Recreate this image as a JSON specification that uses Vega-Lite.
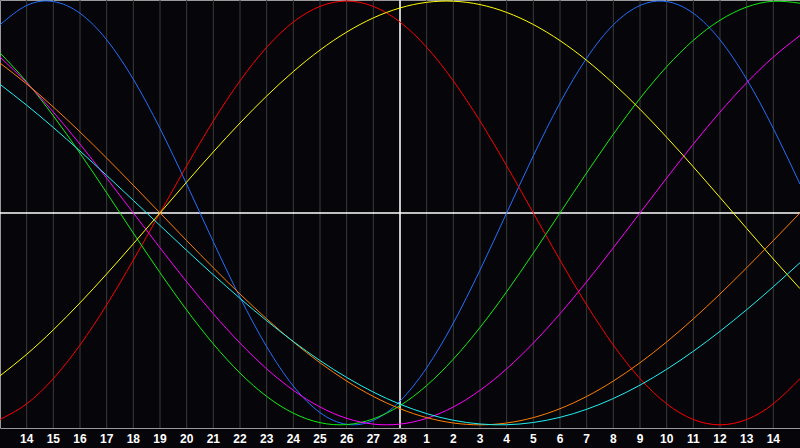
{
"$schema": "https://vega.github.io/schema/vega-lite/v6.json",
"width": 800, "height": 428,
"autosize": {"type": "none"},
"padding": {"left": 0, "top": 0, "right": 0, "bottom": 20},
"background": "#060509",
"config": {"view": {"stroke": "#9a9a9a", "strokeWidth": 1, "fill": "#060509"}},
"datasets": {
"days": [{"t":-14,"lab":"14"},{"t":-13,"lab":"15"},{"t":-12,"lab":"16"},{"t":-11,"lab":"17"},{"t":-10,"lab":"18"},{"t":-9,"lab":"19"},{"t":-8,"lab":"20"},{"t":-7,"lab":"21"},{"t":-6,"lab":"22"},{"t":-5,"lab":"23"},{"t":-4,"lab":"24"},{"t":-3,"lab":"25"},{"t":-2,"lab":"26"},{"t":-1,"lab":"27"},{"t":0,"lab":"28"},{"t":1,"lab":"1"},{"t":2,"lab":"2"},{"t":3,"lab":"3"},{"t":4,"lab":"4"},{"t":5,"lab":"5"},{"t":6,"lab":"6"},{"t":7,"lab":"7"},{"t":8,"lab":"8"},{"t":9,"lab":"9"},{"t":10,"lab":"10"},{"t":11,"lab":"11"},{"t":12,"lab":"12"},{"t":13,"lab":"13"},{"t":14,"lab":"14"}],
"curves": [
{"c":"P","t":-15,"v":0.8879},{"c":"P","t":-14,"v":0.9791},{"c":"P","t":-13,"v":0.9977},{"c":"P","t":-12,"v":0.9423},{"c":"P","t":-11,"v":0.8170},{"c":"P","t":-10,"v":0.6310},{"c":"P","t":-9,"v":0.3984},{"c":"P","t":-8,"v":0.1362},{"c":"P","t":-7,"v":-0.1362},{"c":"P","t":-6,"v":-0.3984},{"c":"P","t":-5,"v":-0.6310},{"c":"P","t":-4,"v":-0.8170},{"c":"P","t":-3,"v":-0.9423},{"c":"P","t":-2,"v":-0.9977},{"c":"P","t":-1,"v":-0.9791},{"c":"P","t":0,"v":-0.8879},{"c":"P","t":1,"v":-0.7308},{"c":"P","t":2,"v":-0.5196},{"c":"P","t":3,"v":-0.2698},{"c":"P","t":4,"v":0},{"c":"P","t":5,"v":0.2698},{"c":"P","t":6,"v":0.5196},{"c":"P","t":7,"v":0.7308},{"c":"P","t":8,"v":0.8879},{"c":"P","t":9,"v":0.9791},{"c":"P","t":10,"v":0.9977},{"c":"P","t":11,"v":0.9423},{"c":"P","t":12,"v":0.8170},{"c":"P","t":13,"v":0.6310},{"c":"P","t":14,"v":0.3984},{"c":"P","t":15,"v":0.1362},
{"c":"E","t":-15,"v":-0.9749},{"c":"E","t":-14,"v":-0.9010},{"c":"E","t":-13,"v":-0.7818},{"c":"E","t":-12,"v":-0.6235},{"c":"E","t":-11,"v":-0.4339},{"c":"E","t":-10,"v":-0.2225},{"c":"E","t":-9,"v":0},{"c":"E","t":-8,"v":0.2225},{"c":"E","t":-7,"v":0.4339},{"c":"E","t":-6,"v":0.6235},{"c":"E","t":-5,"v":0.7818},{"c":"E","t":-4,"v":0.9010},{"c":"E","t":-3,"v":0.9749},{"c":"E","t":-2,"v":1},{"c":"E","t":-1,"v":0.9749},{"c":"E","t":0,"v":0.9010},{"c":"E","t":1,"v":0.7818},{"c":"E","t":2,"v":0.6235},{"c":"E","t":3,"v":0.4339},{"c":"E","t":4,"v":0.2225},{"c":"E","t":5,"v":0},{"c":"E","t":6,"v":-0.2225},{"c":"E","t":7,"v":-0.4339},{"c":"E","t":8,"v":-0.6235},{"c":"E","t":9,"v":-0.7818},{"c":"E","t":10,"v":-0.9010},{"c":"E","t":11,"v":-0.9749},{"c":"E","t":12,"v":-1},{"c":"E","t":13,"v":-0.9749},{"c":"E","t":14,"v":-0.9010},{"c":"E","t":15,"v":-0.7818},
{"c":"I","t":-15,"v":0.7557},{"c":"I","t":-14,"v":0.6182},{"c":"I","t":-13,"v":0.4582},{"c":"I","t":-12,"v":0.2817},{"c":"I","t":-11,"v":0.0951},{"c":"I","t":-10,"v":-0.0951},{"c":"I","t":-9,"v":-0.2817},{"c":"I","t":-8,"v":-0.4582},{"c":"I","t":-7,"v":-0.6182},{"c":"I","t":-6,"v":-0.7557},{"c":"I","t":-5,"v":-0.8660},{"c":"I","t":-4,"v":-0.9450},{"c":"I","t":-3,"v":-0.9898},{"c":"I","t":-2,"v":-0.9989},{"c":"I","t":-1,"v":-0.9718},{"c":"I","t":0,"v":-0.9096},{"c":"I","t":1,"v":-0.8146},{"c":"I","t":2,"v":-0.6901},{"c":"I","t":3,"v":-0.5406},{"c":"I","t":4,"v":-0.3717},{"c":"I","t":5,"v":-0.1893},{"c":"I","t":6,"v":0},{"c":"I","t":7,"v":0.1893},{"c":"I","t":8,"v":0.3717},{"c":"I","t":9,"v":0.5406},{"c":"I","t":10,"v":0.6901},{"c":"I","t":11,"v":0.8146},{"c":"I","t":12,"v":0.9096},{"c":"I","t":13,"v":0.9718},{"c":"I","t":14,"v":0.9989},{"c":"I","t":15,"v":0.9898},
{"c":"N","t":-15,"v":0.7357},{"c":"N","t":-14,"v":0.6142},{"c":"N","t":-13,"v":0.4759},{"c":"N","t":-12,"v":0.3247},{"c":"N","t":-11,"v":0.1646},{"c":"N","t":-10,"v":0},{"c":"N","t":-9,"v":-0.1646},{"c":"N","t":-8,"v":-0.3247},{"c":"N","t":-7,"v":-0.4759},{"c":"N","t":-6,"v":-0.6142},{"c":"N","t":-5,"v":-0.7357},{"c":"N","t":-4,"v":-0.8372},{"c":"N","t":-3,"v":-0.9158},{"c":"N","t":-2,"v":-0.9694},{"c":"N","t":-1,"v":-0.9966},{"c":"N","t":0,"v":-0.9966},{"c":"N","t":1,"v":-0.9694},{"c":"N","t":2,"v":-0.9158},{"c":"N","t":3,"v":-0.8372},{"c":"N","t":4,"v":-0.7357},{"c":"N","t":5,"v":-0.6142},{"c":"N","t":6,"v":-0.4759},{"c":"N","t":7,"v":-0.3247},{"c":"N","t":8,"v":-0.1646},{"c":"N","t":9,"v":0},{"c":"N","t":10,"v":0.1646},{"c":"N","t":11,"v":0.3247},{"c":"N","t":12,"v":0.4759},{"c":"N","t":13,"v":0.6142},{"c":"N","t":14,"v":0.7357},{"c":"N","t":15,"v":0.8372},
{"c":"A","t":-15,"v":-0.7687},{"c":"A","t":-14,"v":-0.6673},{"c":"A","t":-13,"v":-0.5518},{"c":"A","t":-12,"v":-0.4245},{"c":"A","t":-11,"v":-0.2881},{"c":"A","t":-10,"v":-0.1456},{"c":"A","t":-9,"v":0},{"c":"A","t":-8,"v":0.1456},{"c":"A","t":-7,"v":0.2881},{"c":"A","t":-6,"v":0.4245},{"c":"A","t":-5,"v":0.5518},{"c":"A","t":-4,"v":0.6673},{"c":"A","t":-3,"v":0.7687},{"c":"A","t":-2,"v":0.8536},{"c":"A","t":-1,"v":0.9205},{"c":"A","t":0,"v":0.9675},{"c":"A","t":1,"v":0.9940},{"c":"A","t":2,"v":0.9993},{"c":"A","t":3,"v":0.9834},{"c":"A","t":4,"v":0.9464},{"c":"A","t":5,"v":0.8893},{"c":"A","t":6,"v":0.8133},{"c":"A","t":7,"v":0.7200},{"c":"A","t":8,"v":0.6112},{"c":"A","t":9,"v":0.4894},{"c":"A","t":10,"v":0.3572},{"c":"A","t":11,"v":0.2174},{"c":"A","t":12,"v":0.0730},{"c":"A","t":13,"v":-0.0730},{"c":"A","t":14,"v":-0.2174},{"c":"A","t":15,"v":-0.3572},
{"c":"W","t":-15,"v":0.7071},{"c":"W","t":-14,"v":0.6088},{"c":"W","t":-13,"v":0.5},{"c":"W","t":-12,"v":0.3827},{"c":"W","t":-11,"v":0.2588},{"c":"W","t":-10,"v":0.1305},{"c":"W","t":-9,"v":0},{"c":"W","t":-8,"v":-0.1305},{"c":"W","t":-7,"v":-0.2588},{"c":"W","t":-6,"v":-0.3827},{"c":"W","t":-5,"v":-0.5},{"c":"W","t":-4,"v":-0.6088},{"c":"W","t":-3,"v":-0.7071},{"c":"W","t":-2,"v":-0.7934},{"c":"W","t":-1,"v":-0.8660},{"c":"W","t":0,"v":-0.9239},{"c":"W","t":1,"v":-0.9659},{"c":"W","t":2,"v":-0.9914},{"c":"W","t":3,"v":-1},{"c":"W","t":4,"v":-0.9914},{"c":"W","t":5,"v":-0.9659},{"c":"W","t":6,"v":-0.9239},{"c":"W","t":7,"v":-0.8660},{"c":"W","t":8,"v":-0.7934},{"c":"W","t":9,"v":-0.7071},{"c":"W","t":10,"v":-0.6088},{"c":"W","t":11,"v":-0.5},{"c":"W","t":12,"v":-0.3827},{"c":"W","t":13,"v":-0.2588},{"c":"W","t":14,"v":-0.1305},{"c":"W","t":15,"v":0},
{"c":"S","t":-15,"v":0.6068},{"c":"S","t":-14,"v":0.5085},{"c":"S","t":-13,"v":0.4031},{"c":"S","t":-12,"v":0.2921},{"c":"S","t":-11,"v":0.1769},{"c":"S","t":-10,"v":0.0592},{"c":"S","t":-9,"v":-0.0592},{"c":"S","t":-8,"v":-0.1769},{"c":"S","t":-7,"v":-0.2921},{"c":"S","t":-6,"v":-0.4031},{"c":"S","t":-5,"v":-0.5085},{"c":"S","t":-4,"v":-0.6068},{"c":"S","t":-3,"v":-0.6967},{"c":"S","t":-2,"v":-0.7764},{"c":"S","t":-1,"v":-0.8455},{"c":"S","t":0,"v":-0.9027},{"c":"S","t":1,"v":-0.9473},{"c":"S","t":2,"v":-0.9786},{"c":"S","t":3,"v":-0.9961},{"c":"S","t":4,"v":-0.9996},{"c":"S","t":5,"v":-0.9890},{"c":"S","t":6,"v":-0.9646},{"c":"S","t":7,"v":-0.9267},{"c":"S","t":8,"v":-0.8758},{"c":"S","t":9,"v":-0.8126},{"c":"S","t":10,"v":-0.7379},{"c":"S","t":11,"v":-0.6528},{"c":"S","t":12,"v":-0.5586},{"c":"S","t":13,"v":-0.4566},{"c":"S","t":14,"v":-0.3482},{"c":"S","t":15,"v":-0.2349}
]},
"layer": [
{"data": {"name": "days"},
 "mark": {"type": "rule", "color": "#3c3c3c", "strokeWidth": 1},
 "encoding": {"x": {"field": "t", "type": "quantitative", "scale": {"domain": [-15, 15], "nice": false, "zero": false}, "axis": null}}},
{"data": {"name": "days"},
 "mark": {"type": "text", "color": "#ffffff", "font": "Liberation Sans", "fontSize": 12, "fontWeight": "bold", "baseline": "middle", "align": "center", "clip": false},
 "encoding": {"x": {"field": "t", "type": "quantitative"},
   "y": {"datum": -1.068, "type": "quantitative", "scale": {"domain": [-1.015, 1.005], "nice": false, "zero": false}, "axis": null},
   "text": {"field": "lab"}}},
{"data": {"values": [{}]},
 "mark": {"type": "rule", "color": "#ffffff", "strokeWidth": 1.5},
 "encoding": {"y": {"datum": 0, "type": "quantitative"}}},
{"data": {"values": [{}]},
 "mark": {"type": "rule", "color": "#ffffff", "strokeWidth": 1.5},
 "encoding": {"x": {"datum": 0, "type": "quantitative"}}},
{"data": {"name": "curves"},
 "mark": {"type": "line", "strokeWidth": 1, "interpolate": "natural"},
 "encoding": {
   "x": {"field": "t", "type": "quantitative"},
   "y": {"field": "v", "type": "quantitative"},
   "color": {"field": "c", "type": "nominal", "legend": null,
     "scale": {"domain": ["P","E","I","N","A","W","S"], "range": ["#2070ff","#ff0000","#10ee10","#ff00ff","#ffff00","#ff8000","#20f0f0"]}},
   "detail": {"field": "c"}}}
]
}
